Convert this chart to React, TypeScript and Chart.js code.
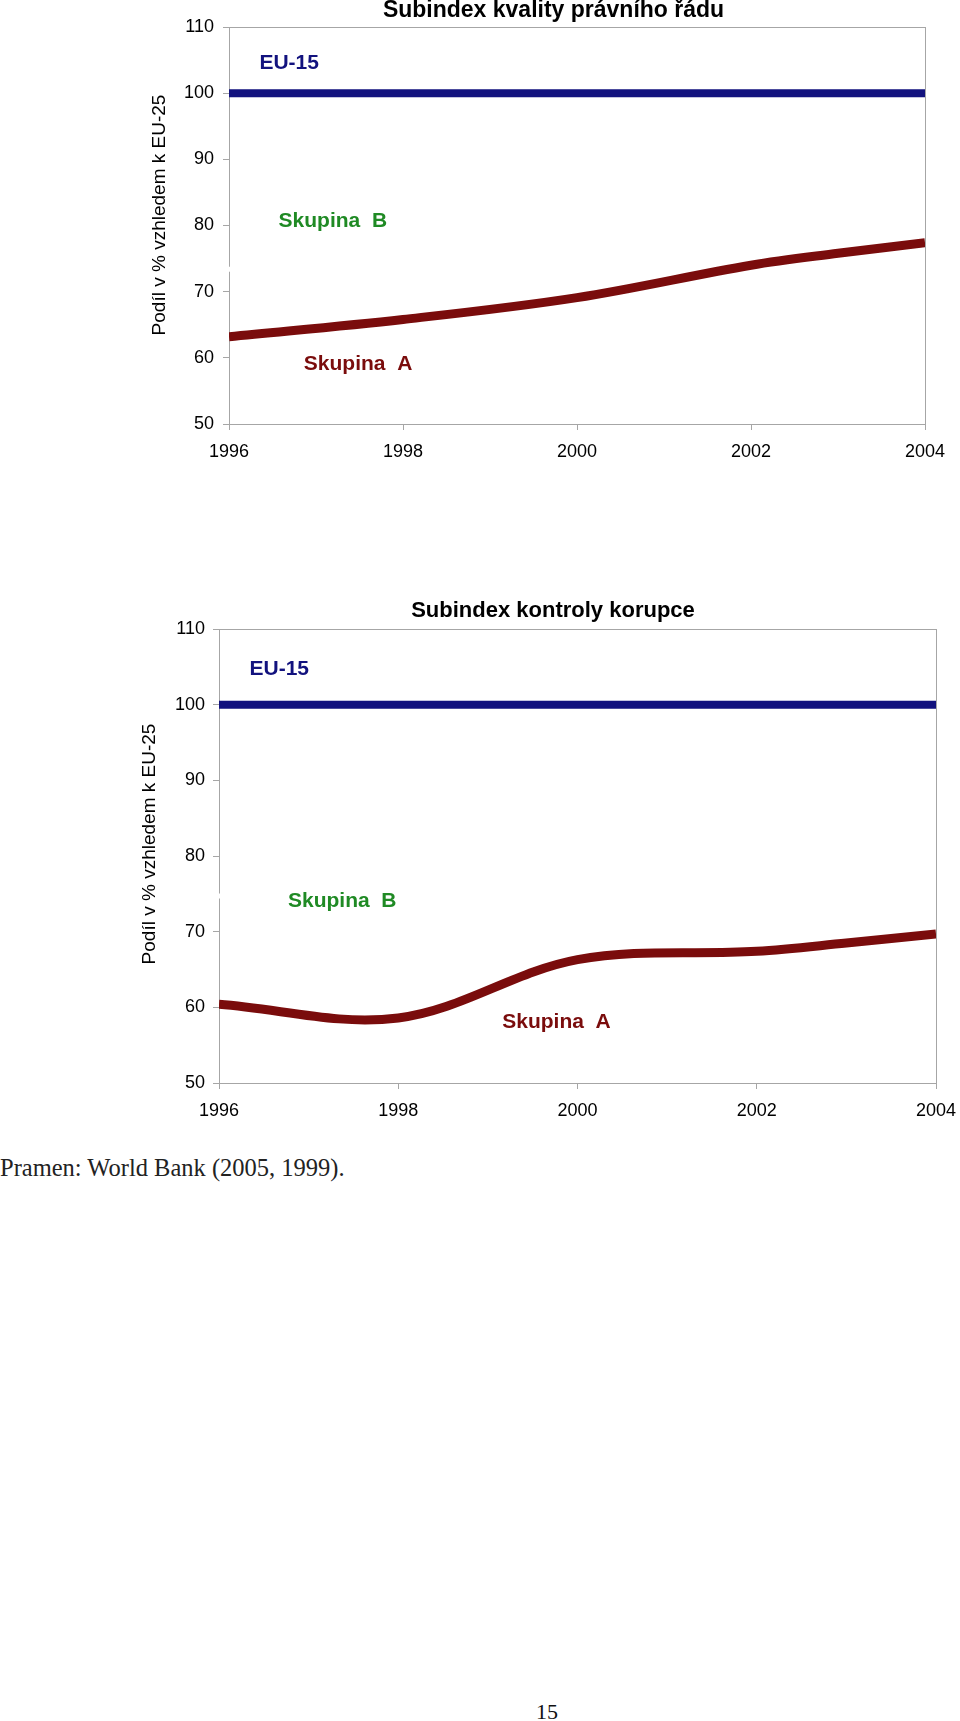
import React, { useEffect, useRef } from "react";
import { Chart, registerables } from "chart.js";

Chart.register(...registerables);

// ---- data ----
const years = [1996, 1998, 2000, 2002, 2003, 2004];
const euYears = [1996, 2004];
const euValues = [100, 100];

const lawTitle = "Subindex kvality právního řádu";
const lawGroupA = [63.2, 65.8, 69.1, 74.0, 75.8, 77.4];
const lawGroupBEnds = [73.4, 81.3];

const corTitle = "Subindex kontroly korupce";
const corGroupA = [60.4, 58.6, 66.3, 67.4, 68.5, 69.7];
const corGroupBEnds = [74.7, 71.4];

const yAxisTitle = "Podíl v % vzhledem k EU-25";
const labelEU = "EU-15";
const labelB = "Skupina  B";
const labelA = "Skupina  A";
const sourceText = "Pramen: World Bank (2005, 1999).";
const pageNumber = "15";

const FONT = "'Liberation Sans', Arial, Helvetica, sans-serif";
const NAVY = "#12127e";
const GREEN = "#1f8a24";
const DARKRED = "#7a0c0c";
const AXIS = "#a6a6a6";

type Spec = {
  top: number;
  height: number;
  area: { left: number; right: number; top: number; bottom: number };
  title: string;
  titleSize: number;
  titleX: number;
  titleY: number;
  yTitleX: number;
  yTitleY: number;
  groupA: number[];
  groupBEnds: number[];
  yTickPad: number;
  labels: { text: string; color: string; x: number; y: number }[];
};

const lawSpec: Spec = {
  top: 0,
  height: 480,
  area: { left: 229, right: 925, top: 27, bottom: 424 },
  title: lawTitle,
  titleSize: 23,
  titleX: 553.5,
  titleY: 11,
  yTitleX: 160,
  yTitleY: 215,
  groupA: lawGroupA,
  groupBEnds: lawGroupBEnds,
  yTickPad: 9,
  labels: [
    { text: labelEU, color: NAVY, x: 1996.35, y: 104.5 },
    { text: labelB, color: GREEN, x: 1996.57, y: 80.6 },
    { text: labelA, color: DARKRED, x: 1996.86, y: 59.1 },
  ],
};

const corSpec: Spec = {
  top: 600,
  height: 530,
  area: { left: 219, right: 936, top: 29, bottom: 483 },
  title: corTitle,
  titleSize: 22,
  titleX: 553,
  titleY: 11,
  yTitleX: 150,
  yTitleY: 244,
  groupA: corGroupA,
  groupBEnds: corGroupBEnds,
  yTickPad: 8,
  labels: [
    { text: labelEU, color: NAVY, x: 1996.34, y: 104.7 },
    { text: labelB, color: GREEN, x: 1996.77, y: 74.0 },
    { text: labelA, color: DARKRED, x: 1999.16, y: 58.0 },
  ],
};

function ChartBox({ spec }: { spec: Spec }) {
  const ref = useRef<HTMLCanvasElement | null>(null);
  useEffect(() => {
    if (!ref.current) return;
    const a = spec.area;
    const frame = {
      id: "frame",
      beforeDatasetsDraw(chart: any) {
        const { ctx, chartArea } = chart;
        ctx.save();
        ctx.strokeStyle = AXIS;
        ctx.lineWidth = 1;
        ctx.strokeRect(
          Math.round(chartArea.left) + 0.5,
          Math.round(chartArea.top) + 0.5,
          Math.round(chartArea.right - chartArea.left),
          Math.round(chartArea.bottom - chartArea.top)
        );
        ctx.restore();
      },
    };
    const texts = {
      id: "texts",
      afterDraw(chart: any) {
        const { ctx } = chart;
        const xs = chart.scales.x;
        const ys = chart.scales.y;
        ctx.save();
        ctx.fillStyle = "#000";
        ctx.textAlign = "center";
        ctx.textBaseline = "middle";
        ctx.font = `bold ${spec.titleSize}px ${FONT}`;
        ctx.fillText(spec.title, spec.titleX, spec.titleY);
        ctx.save();
        ctx.translate(spec.yTitleX, spec.yTitleY);
        ctx.rotate(-Math.PI / 2);
        ctx.font = `19px ${FONT}`;
        ctx.fillText(yAxisTitle, 0, 0);
        ctx.restore();
        ctx.textAlign = "left";
        ctx.font = `bold 21px ${FONT}`;
        for (const l of spec.labels) {
          ctx.fillStyle = l.color;
          ctx.fillText(l.text, xs.getPixelForValue(l.x), ys.getPixelForValue(l.y));
        }
        ctx.restore();
      },
    };
    const chart = new Chart(ref.current, {
      type: "line",
      data: {
        datasets: [
          {
            label: labelEU,
            data: euYears.map((x, i) => ({ x, y: euValues[i] })),
            borderColor: NAVY,
            borderWidth: 8,
            pointRadius: 0,
            tension: 0,
          },
          {
            label: labelA,
            data: years.map((x, i) => ({ x, y: spec.groupA[i] })),
            borderColor: DARKRED,
            borderWidth: 9,
            pointRadius: 0,
            tension: 0.35,
          },
          {
            label: labelB,
            data: euYears.map((x, i) => ({ x, y: spec.groupBEnds[i] })),
            borderColor: "#ffffff",
            borderWidth: 5,
            borderCapStyle: "square",
            pointRadius: 0,
            tension: 0,
          },
        ],
      },
      options: {
        animation: false,
        responsive: false,
        events: [],
        layout: {
          padding: { left: 0, top: a.top, right: 960 - a.right, bottom: 0 },
        },
        plugins: {
          legend: { display: false },
          title: { display: false },
          tooltip: { enabled: false },
        },
        scales: {
          x: {
            type: "linear",
            min: 1996,
            max: 2004,
            afterFit(scale: any) {
              scale.height = spec.height - a.bottom;
              scale.paddingLeft = 0;
              scale.paddingRight = 0;
            },
            ticks: {
              stepSize: 2,
              autoSkip: false,
              maxRotation: 0,
              padding: 11,
              color: "#000",
              font: { family: FONT, size: 18 },
              callback: (v: any) => String(v),
            },
            grid: {
              display: true,
              drawOnChartArea: false,
              drawTicks: true,
              tickLength: 6,
              color: AXIS,
            },
            border: { display: true, color: AXIS, width: 1 },
          },
          y: {
            type: "linear",
            min: 50,
            max: 110,
            afterFit(scale: any) {
              scale.width = a.left;
              scale.paddingTop = 0;
              scale.paddingBottom = 0;
            },
            ticks: {
              stepSize: 10,
              padding: spec.yTickPad,
              color: "#000",
              font: { family: FONT, size: 18 },
              callback: (v: any) => String(v),
            },
            grid: {
              display: true,
              drawOnChartArea: false,
              drawTicks: true,
              tickLength: 6,
              color: AXIS,
            },
            border: { display: true, color: AXIS, width: 1 },
          },
        },
      },
      plugins: [frame, texts],
    } as any);
    return () => chart.destroy();
  }, [spec]);
  return (
    <canvas
      ref={ref}
      width={960}
      height={spec.height}
      style={{ position: "absolute", left: 0, top: spec.top, width: 960, height: spec.height }}
    />
  );
}

export default function App() {
  useEffect(() => {
    document.body.style.margin = "0";
  }, []);
  return (
    <div style={{ position: "relative", width: 960, height: 1721, background: "#fff", overflow: "hidden" }}>
      <ChartBox spec={lawSpec} />
      <ChartBox spec={corSpec} />
      <div
        style={{
          position: "absolute",
          left: 0,
          top: 1153,
          font: "24.5px 'Liberation Serif', 'Times New Roman', serif",
          lineHeight: "30px",
          color: "#222",
          whiteSpace: "nowrap",
        }}
      >
        {sourceText}
      </div>
      <div
        style={{
          position: "absolute",
          left: 536,
          top: 1698,
          font: "22px 'Liberation Serif', 'Times New Roman', serif",
          lineHeight: "28px",
          color: "#111",
        }}
      >
        {pageNumber}
      </div>
    </div>
  );
}
